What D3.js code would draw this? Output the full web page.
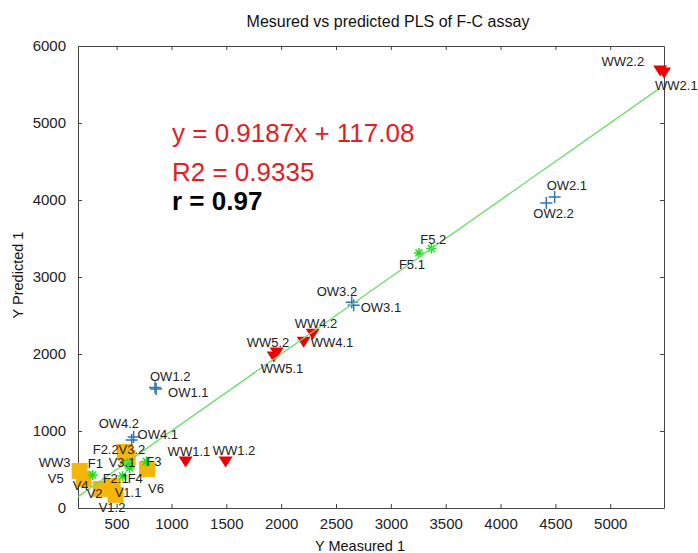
<!DOCTYPE html>
<html>
<head>
<meta charset="utf-8">
<script src="https://cdn.jsdelivr.net/npm/d3@7"></script>
<style>
  body { margin: 0; background: #fff; }
  svg { display: block; font-family: Arial, "Liberation Sans", sans-serif; }
</style>
</head>
<body>
<svg id="chart" width="698" height="553"></svg>
<script>
// samples: measured vs predicted, grouped by sample type
const wwNames = ['WW2.1', 'WW2.2', 'WW4.1', 'WW4.2', 'WW5.1', 'WW5.2', 'WW1.1', 'WW1.2', 'WW3'];
const wwMeasured = [5490, 5455, 2205, 2287, 1932, 1959, 1129, 1494, 170];
const wwPredicted = [5650, 5675, 2154, 2258, 1960, 2012, 598, 598, 475];

const owNames = ['OW2.1', 'OW2.2', 'OW3.1', 'OW3.2', 'OW1.1', 'OW1.2', 'OW4.1', 'OW4.2'];
const owMeasured = [4493, 4417, 2661, 2643, 860, 850, 655, 637];
const owPredicted = [4039, 3961, 2634, 2673, 1545, 1565, 922, 883];

const fNames = ['F5.1', 'F5.2', 'F1', 'F2.1', 'F2.2', 'F4', 'F3'];
const fMeasured = [3256, 3369, 282, 555, 601, 619, 771];
const fPredicted = [3313, 3370, 429, 416, 586, 521, 604];

const vNames = ['V5', 'V4', 'V2', 'V1.1', 'V1.2', 'V3.2', 'V3.1', 'V6'];
const vMeasured = [163, 200, 355, 464, 491, 573, 601, 778];
const vPredicted = [481, 377, 248, 286, 170, 728, 650, 507];

const fitX = [148, 5430];
const fitY = [148, 5430];

const xDomain = [148, 5490];
const yDomain = [0, 6000];
const xTicks = [500, 1000, 1500, 2000, 2500, 3000, 3500, 4000, 4500, 5000];
const yTicks = [0, 1000, 2000, 3000, 4000, 5000, 6000];

const equationLines = ['y = 0.9187x + 117.08', 'R2 = 0.9335', 'r = 0.97'];

// label placement (pixel offset from marker, text-anchor)
const labelOffset = {
  'WW2.2': [-16, -5, 'end'], 'WW2.1': [-9, 17, 'start'],
  'OW2.1': [-8, -7, 'start'], 'OW2.2': [-13, 15, 'start'],
  'F5.2': [-11, -5, 'start'], 'F5.1': [-20, 16, 'start'],
  'OW3.2': [-35, -6, 'start'], 'OW3.1': [7, 7, 'start'],
  'WW4.2': [-18, -6, 'start'], 'WW4.1': [7, 5, 'start'],
  'WW5.2': [-30, -6, 'start'], 'WW5.1': [-13, 16, 'start'],
  'OW1.2': [-5, -6, 'start'], 'OW1.1': [12, 8, 'start'],
  'OW4.2': [-33, -12, 'start'], 'OW4.1': [4, 2, 'start'],
  'F2.2': [-35, -9, 'start'], 'V3.2': [-6, 2, 'start'],
  'WW1.1': [-18, -6, 'start'], 'WW1.2': [-13, -7, 'start'],
  'WW3': [-10, -4, 'end'], 'F1': [-5, -7, 'start'],
  'V3.1': [-19, 9, 'start'], 'F3': [0, 5, 'start'],
  'V5': [-16, 12, 'end'], 'V4': [-11, 11, 'start'],
  'F2.1': [-20, 7, 'start'], 'F4': [-2, 15, 'start'],
  'V2': [-14, 9, 'start'], 'V1.1': [2, 11, 'start'],
  'V6': [1, 24, 'start'], 'V1.2': [-17, 17, 'start']
};

const svg = d3.select('#chart');
const margin = {top: 46, right: 34, bottom: 45, left: 78};
const width = +svg.attr('width');
const height = +svg.attr('height');

const x = d3.scaleLinear().domain(xDomain).range([margin.left, width - margin.right]);
const y = d3.scaleLinear().domain(yDomain).range([height - margin.bottom, margin.top]);

const axisColor = '#444';
const styleAxis = g => {
  g.select('.domain').attr('stroke', axisColor);
  g.selectAll('.tick line').attr('stroke', axisColor);
  g.selectAll('.tick text').attr('fill', '#222').style('font-size', '15px')
    .style('font-family', 'Arial, "Liberation Sans", sans-serif');
};

svg.append('g').attr('transform', `translate(0,${height - margin.bottom})`)
  .call(d3.axisBottom(x).tickValues(xTicks).tickFormat(d3.format('d')).tickSizeInner(-4).tickSizeOuter(0).tickPadding(10))
  .call(styleAxis);
svg.append('g').attr('transform', `translate(0,${margin.top})`)
  .call(d3.axisTop(x).tickValues(xTicks).tickSizeInner(-4).tickSizeOuter(0).tickFormat(''))
  .call(styleAxis);
svg.append('g').attr('transform', `translate(${margin.left},0)`)
  .call(d3.axisLeft(y).tickValues(yTicks).tickFormat(d3.format('d')).tickSizeInner(-4).tickSizeOuter(0).tickPadding(12))
  .call(styleAxis);
svg.append('g').attr('transform', `translate(${width - margin.right},0)`)
  .call(d3.axisRight(y).tickValues(yTicks).tickSizeInner(-4).tickSizeOuter(0).tickFormat(''))
  .call(styleAxis);

// title and axis titles
svg.append('text').attr('x', 388).attr('y', 27).attr('text-anchor', 'middle')
  .style('font-size', '16px').attr('fill', '#111').text('Mesured vs predicted PLS of F-C assay');
svg.append('text').attr('x', 315).attr('y', 551)
  .style('font-size', '14.5px').attr('fill', '#111').text('Y Measured 1');
svg.append('text').attr('transform', 'translate(23,275) rotate(-90)').attr('text-anchor', 'middle')
  .style('font-size', '14.5px').attr('fill', '#111').text('Y Predicted 1');

const zip = (names, mx, py) => names.map((n, i) => ({name: n, x: mx[i], y: py[i]}));
const ww = zip(wwNames, wwMeasured, wwPredicted);
const ow = zip(owNames, owMeasured, owPredicted);
const ff = zip(fNames, fMeasured, fPredicted);
const vv = zip(vNames, vMeasured, vPredicted);

const marks = svg.append('g');

// red down triangles
marks.selectAll('path.ww').data(ww).enter().append('path')
  .attr('class', 'ww')
  .attr('d', 'M-7,-5.5L7,-5.5L0,5.5Z')
  .attr('transform', d => `translate(${x(d.x)},${y(d.y)})`)
  .attr('fill', '#f00000');

// yellow squares
marks.selectAll('rect.v').data(vv).enter().append('rect')
  .attr('class', 'v')
  .attr('x', d => x(d.x) - 8).attr('y', d => y(d.y) - 8)
  .attr('width', 16).attr('height', 16)
  .attr('fill', '#f5b60c');

// blue plus
marks.selectAll('path.ow').data(ow).enter().append('path')
  .attr('class', 'ow')
  .attr('d', 'M-6,0H6M0,-6V6')
  .attr('transform', d => `translate(${x(d.x)},${y(d.y)})`)
  .attr('stroke', '#2f74b5').attr('stroke-width', 1.5).attr('fill', 'none');

// green stars
marks.selectAll('path.f').data(ff).enter().append('path')
  .attr('class', 'f')
  .attr('d', 'M-5,0H5M0,-5V5M-3.5,-3.5L3.5,3.5M-3.5,3.5L3.5,-3.5')
  .attr('transform', d => `translate(${x(d.x)},${y(d.y)})`)
  .attr('stroke', '#22dd22').attr('stroke-width', 1.5).attr('fill', 'none');

// fit line
svg.append('path')
  .datum(fitX.map((v, i) => [v, fitY[i]]))
  .attr('d', d3.line().x(d => x(d[0])).y(d => y(d[1])))
  .attr('stroke', '#6fdc6f').attr('stroke-width', 1.3).attr('fill', 'none');

// point labels
const all = ww.concat(ow, ff, vv);
svg.append('g').selectAll('text').data(all).enter().append('text')
  .attr('x', d => x(d.x) + labelOffset[d.name][0])
  .attr('y', d => y(d.y) + labelOffset[d.name][1])
  .attr('text-anchor', d => labelOffset[d.name][2])
  .style('font-size', '13px').attr('fill', '#222')
  .text(d => d.name);

// regression text
const eq = svg.append('g');
eq.selectAll('text').data(equationLines).enter().append('text')
  .attr('x', 172)
  .attr('y', (d, i) => [142, 181, 210][i])
  .attr('fill', (d, i) => i < 2 ? '#e3201f' : '#000')
  .style('font-weight', (d, i) => i < 2 ? 'normal' : 'bold')
  .style('font-size', '26px')
  .text(d => d);
</script>
</body>
</html>
